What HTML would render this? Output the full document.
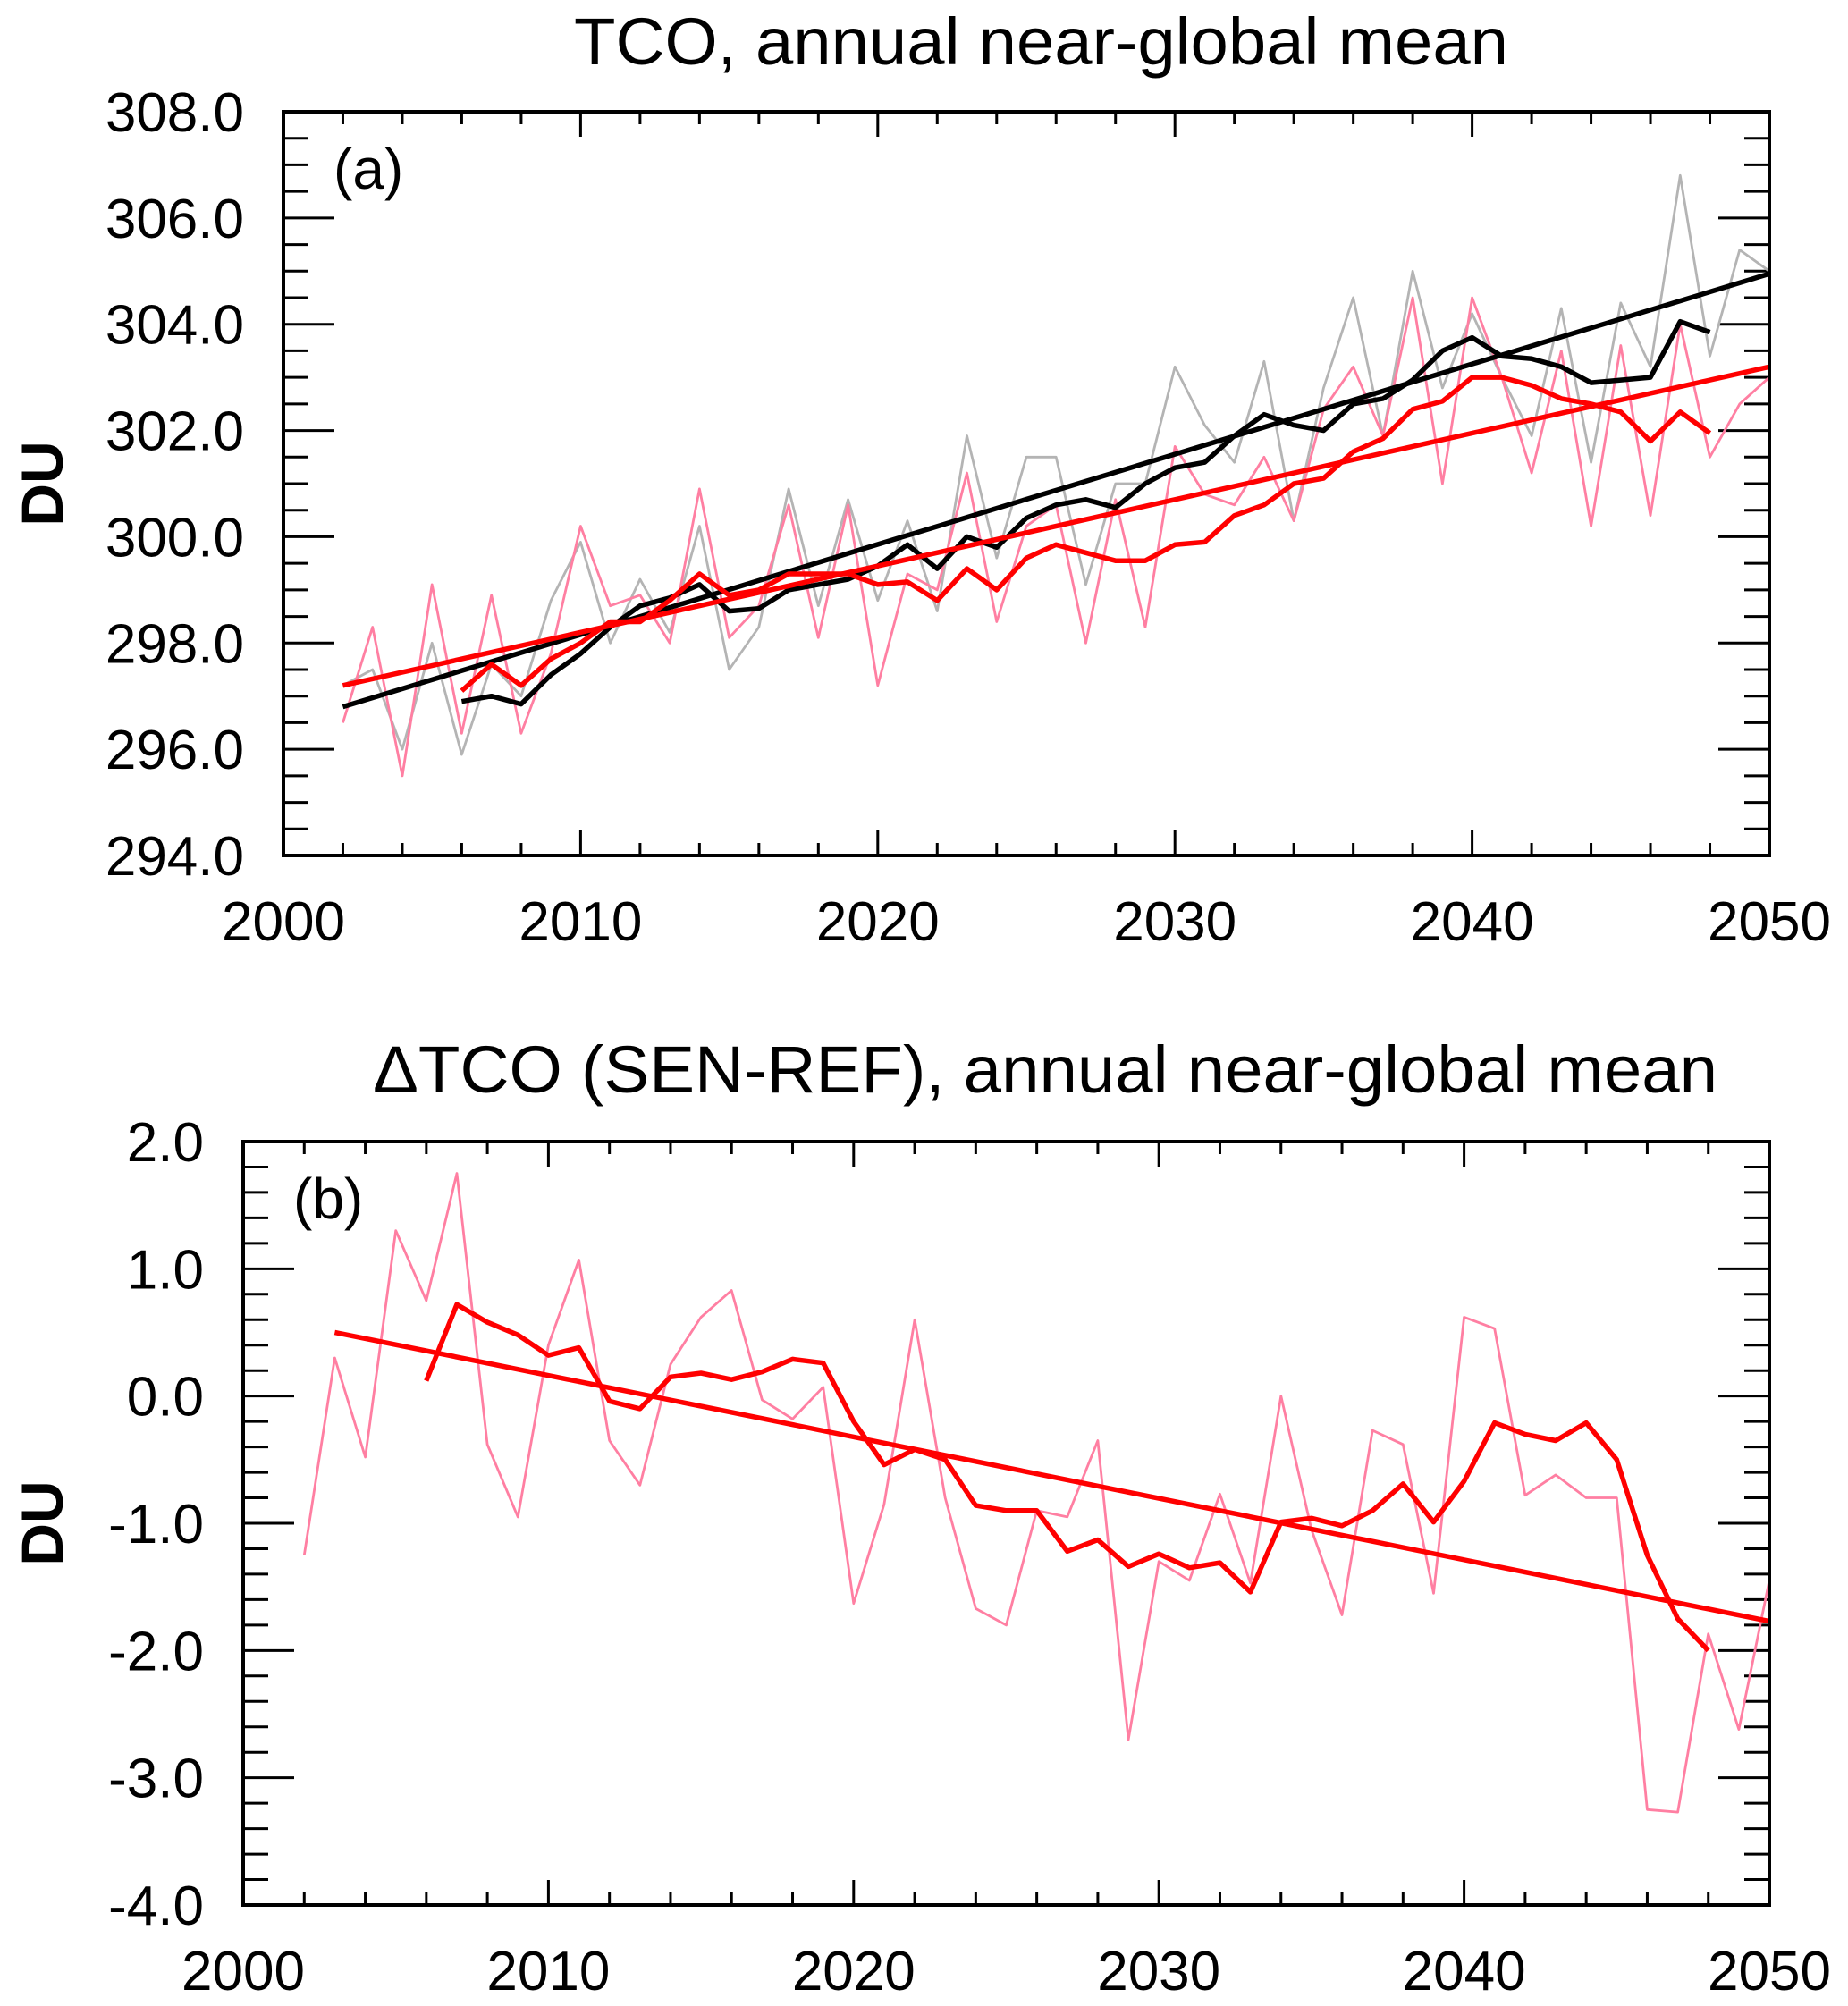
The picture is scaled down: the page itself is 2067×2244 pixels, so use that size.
<!DOCTYPE html>
<html><head><meta charset="utf-8">
<style>
html,body{margin:0;padding:0;background:#fff;}
svg{display:block;font-family:"Liberation Sans",Arial,sans-serif;}
</style></head>
<body>
<svg id="chart" width="2067" height="2244" viewBox="0 0 2067 2244" xmlns="http://www.w3.org/2000/svg"></svg>
<script>
// ---------- Panel (a) data ----------
const yearsAnnual = [2002,2003,2004,2005,2006,2007,2008,2009,2010,2011,2012,2013,2014,2015,2016,2017,2018,2019,2020,2021,2022,2023,2024,2025,2026,2027,2028,2029,2030,2031,2032,2033,2034,2035,2036,2037,2038,2039,2040,2041,2042,2043,2044,2045,2046,2047,2048,2049,2050];
const yearsSmooth = [2006,2007,2008,2009,2010,2011,2012,2013,2014,2015,2016,2017,2018,2019,2020,2021,2022,2023,2024,2025,2026,2027,2028,2029,2030,2031,2032,2033,2034,2035,2036,2037,2038,2039,2040,2041,2042,2043,2044,2045,2046,2047,2048];
const refAnnual = [297.2,297.5,296.0,298.0,295.9,297.6,297.0,298.8,299.9,298.0,299.2,298.2,300.2,297.5,298.3,300.9,298.7,300.7,298.8,300.3,298.6,301.9,299.6,301.5,301.5,299.1,301.0,301.0,303.2,302.1,301.4,303.3,300.3,302.8,304.5,301.9,305.0,302.8,304.2,303.0,301.9,304.3,301.4,304.4,303.2,306.8,303.4,305.4,305.0];
const senAnnual = [296.5,298.3,295.5,299.1,296.3,298.9,296.3,297.8,300.2,298.7,298.9,298.0,300.9,298.1,298.7,300.6,298.1,300.6,297.2,299.3,299.0,301.2,298.4,300.2,300.6,298.0,300.7,298.3,301.7,300.8,300.6,301.5,300.3,302.4,303.2,301.9,304.5,301.0,304.5,303.0,301.2,303.5,300.2,303.6,300.4,304.0,301.5,302.5,303.0];
const refSmooth = [296.9,297.0,296.85,297.4,297.8,298.3,298.7,298.85,299.1,298.6,298.65,299.0,299.1,299.2,299.45,299.85,299.4,300.0,299.8,300.35,300.6,300.7,300.55,301.0,301.3,301.4,301.9,302.3,302.1,302.0,302.5,302.6,302.95,303.5,303.75,303.4,303.35,303.2,302.9,302.95,303.0,304.05,303.85];
const senSmooth = [297.1,297.6,297.2,297.7,298.0,298.4,298.4,298.8,299.3,298.9,299.0,299.3,299.3,299.3,299.1,299.15,298.8,299.4,299.0,299.6,299.85,299.7,299.55,299.55,299.85,299.9,300.4,300.6,301.0,301.1,301.6,301.85,302.4,302.55,303.0,303.0,302.85,302.6,302.5,302.35,301.8,302.35,301.95];
const refTrendYears = [2002,2050];
const refTrendVals = [296.8,304.95];
const senTrendYears = [2002,2050];
const senTrendVals = [297.2,303.2];
const yTicksA = [294,296,298,300,302,304,306,308];
const yTickLabelsA = ["294.0","296.0","298.0","300.0","302.0","304.0","306.0","308.0"];
// ---------- Panel (b) data ----------
const diffAnnual = [-1.25,0.3,-0.48,1.3,0.75,1.75,-0.38,-0.95,0.4,1.07,-0.35,-0.7,0.25,0.62,0.83,-0.03,-0.18,0.07,-1.63,-0.85,0.6,-0.8,-1.67,-1.8,-0.9,-0.95,-0.35,-2.7,-1.3,-1.45,-0.77,-1.47,0.0,-1.05,-1.72,-0.27,-0.38,-1.55,0.62,0.53,-0.78,-0.62,-0.8,-0.8,-3.25,-3.27,-1.87,-2.62,-1.45];
const diffSmooth = [0.12,0.72,0.58,0.48,0.32,0.38,-0.04,-0.1,0.15,0.18,0.13,0.19,0.29,0.26,-0.2,-0.54,-0.42,-0.5,-0.86,-0.9,-0.9,-1.22,-1.13,-1.34,-1.24,-1.35,-1.31,-1.54,-0.99,-0.96,-1.02,-0.9,-0.69,-0.99,-0.67,-0.21,-0.3,-0.35,-0.21,-0.5,-1.25,-1.75,-2.0];
const diffTrendYears = [2003,2050];
const diffTrendVals = [0.5,-1.77];
const yTicksB = [-4,-3,-2,-1,0,1,2];
const yTickLabelsB = ["-4.0","-3.0","-2.0","-1.0","0.0","1.0","2.0"];
const xTicks = [2000,2010,2020,2030,2040,2050];
const xTickLabels = ["2000","2010","2020","2030","2040","2050"];

const NS = "http://www.w3.org/2000/svg";
const svg = document.getElementById('chart');
function mk(tag, attrs, parent){
  const e = document.createElementNS(NS, tag);
  for (const k in attrs) e.setAttribute(k, attrs[k]);
  (parent||svg).appendChild(e);
  return e;
}
function panel(cfg){
  const g = mk('g', {});
  
  
  const sx = v => cfg.L + (v - 2000) / 50 * (cfg.R - cfg.L);
  const sy = v => cfg.B - (v - cfg.ymin) / (cfg.ymax - cfg.ymin) * (cfg.B - cfg.T);
  const t = mk('text', {x: cfg.titleX, y: cfg.titleY, 'font-size': 74, textLength: cfg.titleW, lengthAdjust: 'spacingAndGlyphs'}, g);
  t.textContent = cfg.title;
  
  
  const pl = mk('text', {x: cfg.L + 56, y: cfg.T + 86, 'font-size': 64}, g);
  pl.textContent = cfg.label;
  
  
  const yt = mk('text', {x: 0, y: 0, 'font-size': 66, 'text-anchor': 'middle', 'font-weight': 'bold', transform: `translate(70,${(cfg.T+cfg.B)/2}) rotate(-90)`}, g);
  yt.textContent = 'DU';
  
  
  const tg = mk('g', {stroke: '#000', 'stroke-width': 3}, g);
  
  
  for (let yr = 2000; yr <= 2050; yr += 2) {
    const major = (yr % 10 === 0);
    const len = major ? 28 : 14;
    const x = sx(yr);
    mk('line', {x1: x, x2: x, y1: cfg.B, y2: cfg.B - len}, tg);
    mk('line', {x1: x, x2: x, y1: cfg.T, y2: cfg.T + len}, tg);
  }
  const nMinor = Math.round((cfg.ymax - cfg.ymin) / cfg.minorStep);
  for (let i = 0; i <= nMinor; i++) {
    const v = cfg.ymin + i * cfg.minorStep;
    const major = cfg.yTicks.some(m => Math.abs(m - v) < 1e-6);
    const len = major ? 57 : 28;
    const y = sy(v);
    mk('line', {x1: cfg.L, x2: cfg.L + len, y1: y, y2: y}, tg);
    mk('line', {x1: cfg.R, x2: cfg.R - len, y1: y, y2: y}, tg);
  }
  cfg.yTicks.forEach((v, i) => {
    const tl = mk('text', {x: cfg.L - 44, y: sy(v) + 22, 'font-size': 62, 'text-anchor': 'end'}, g);
    tl.textContent = cfg.yLabels[i];
    
    
  });
  xTicks.forEach((v, i) => {
    const tl = mk('text', {x: sx(v), y: cfg.B + 95, 'font-size': 62, 'text-anchor': 'middle'}, g);
    tl.textContent = xTickLabels[i];
    
    
  });
  function line(xs, ys, color, w, name){
    const d = xs.map((x, i) => (i ? 'L' : 'M') + sx(x).toFixed(1) + ',' + sy(ys[i]).toFixed(1)).join('');
    const p = mk('path', {d: d, fill: 'none', stroke: color, 'stroke-width': w, 'stroke-linejoin': 'round'}, g);
    
    
  }
  cfg.series.forEach(s => line(s[0], s[1], s[2], s[3], s[4]));
  const fr = mk('rect', {x: cfg.L, y: cfg.T, width: cfg.R - cfg.L, height: cfg.B - cfg.T, fill: 'none', stroke: '#000', 'stroke-width': 4}, g);
  
  
}
panel({name: 'panel-a', L: 317, R: 1979, T: 125, B: 957, ymin: 294, ymax: 308, minorStep: 0.5,
  yTicks: yTicksA, yLabels: yTickLabelsA, title: 'TCO, annual near-global mean', titleX: 642, titleY: 72, titleW: 1045, label: '(a)',
  series: [
    [yearsAnnual, refAnnual, '#b4b4b4', 2.8, 'ref-annual-line'],
    [yearsAnnual, senAnnual, '#ff7fa2', 2.8, 'sen-annual-line'],
    [refTrendYears, refTrendVals, '#000', 5.5, 'ref-trend-line'],
    [yearsSmooth, refSmooth, '#000', 5.5, 'ref-smooth-line'],
    [senTrendYears, senTrendVals, '#ff0000', 5.5, 'sen-trend-line'],
    [yearsSmooth, senSmooth, '#ff0000', 5.5, 'sen-smooth-line']
  ]});
panel({name: 'panel-b', L: 272, R: 1979, T: 1277, B: 2131, ymin: -4, ymax: 2, minorStep: 0.2,
  yTicks: yTicksB, yLabels: yTickLabelsB, title: '\u0394TCO (SEN-REF), annual near-global mean', titleX: 417, titleY: 1222, titleW: 1504, label: '(b)',
  series: [
    [yearsAnnual, diffAnnual, '#ff7fa2', 2.8, 'diff-annual-line'],
    [diffTrendYears, diffTrendVals, '#ff0000', 5.5, 'diff-trend-line'],
    [yearsSmooth, diffSmooth, '#ff0000', 5.5, 'diff-smooth-line']
  ]});
</script>
</body></html>
